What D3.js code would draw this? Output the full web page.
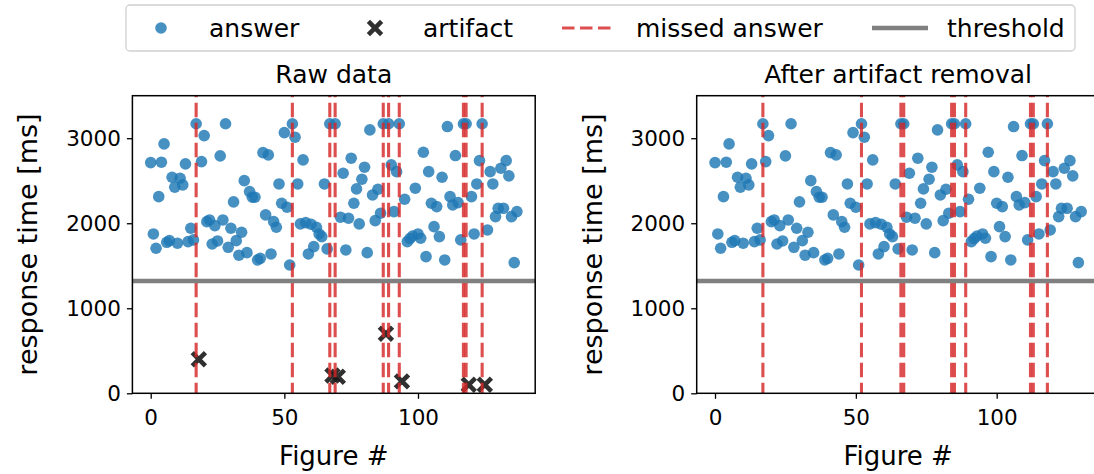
<!DOCTYPE html>
<html><head><meta charset="utf-8">
<script src="https://cdn.jsdelivr.net/npm/d3@7/dist/d3.min.js"></script>
<style>
body{margin:0;background:#fff}
svg{display:block}
text{font-family:"DejaVu Sans",sans-serif;fill:#000}
</style>
</head><body>
<svg id="chart" width="1094" height="474"></svg>
<script>
// ---------------- data ----------------
const lastFigure = 137;                       // figures 0..137 in the raw recording
const artifactFigure = [18, 68, 70, 88, 94, 119, 125];
const artifactMs     = [400, 210, 195, 700, 140, 100, 100];
const missedFigure   = [17, 53, 67, 69, 87, 89, 93, 117, 118, 124];
const thresholdMs = 1320;
// response times of the answers, in figure order (artifact figures skipped)
const answerMs = [
  2713,1874,1706,2313,2718,2933,1776,1795,2541,2424,1765,2529,2451,2698,1784,1941,1804,3170,
  2725,3031,2019,2039,1756,1972,1792,2792,2039,3170,1717,1941,2251,1795,1624,1894,2501,1654,
  2372,2306,2306,1568,1588,2831,2098,2804,1639,2019,1953,2462,2235,3066,2188,1509,3170,3012,
  2462,1992,2745,2007,1639,1988,1725,1953,1874,1843,2462,1698,3170,
  3170,
  2071,2588,1686,2059,2765,2235,2404,1992,2518,2659,1654,3098,2333,2031,2400,2118,3170,
  3170,2686,2137,2607,3170,
  2282,1784,1820,1850,2412,1874,1824,2835,1607,2607,2235,1960,2196,1843,2541,1568,3137,2313,
  2215,2796,2243,1804,3170,3170,
  2313,1874,2462,2737,3170,
  1921,2607,2462,2078,2176,2647,2176,2737,2557,2078,1537,2137
];
const xTicks = [0, 50, 100];
const yTicks = [0, 1000, 2000, 3000];
const titles = ["Raw data", "After artifact removal"];
const legendLabels = ["answer", "artifact", "missed answer", "threshold"];

// ---------------- derived ----------------
const answerFigure = d3.range(0, lastFigure + 1).filter(f => !artifactFigure.includes(f));
// after removal the answers are renumbered consecutively
const cleanIndex = new Map(answerFigure.map((f, i) => [f, i]));
const rawPanel = {
  title: titles[0],
  points: answerFigure.map((f, i) => ({x: f, y: answerMs[i]})),
  crosses: artifactFigure.map((f, i) => ({x: f, y: artifactMs[i]})),
  missed: missedFigure,
  xmax: lastFigure
};
const cleanPanel = {
  title: titles[1],
  points: answerMs.map((v, i) => ({x: i, y: v})),
  crosses: [],
  missed: missedFigure.map(f => cleanIndex.get(f)),
  xmax: answerMs.length - 1
};

// ---------------- colours / layout ----------------
const C = {answer:"#1f77b4", artifact:"#1a1a1a", missed:"#d62728", thr:"#808080"};
const yTop = 95.7, yBottom = 393.3;
const panelLeft = [132.4, 696.7], panelWidth = 402.8;
const svg = d3.select("#chart");
const y = d3.scaleLinear().domain([0, 3500]).range([yBottom, yTop]);

function crossPath(s){ return `M${-s},${-s}L${s},${s}M${-s},${s}L${s},${-s}`; }

function drawPanel(p, left, showYLabel){
  const m = 0.05 * p.xmax;
  const x = d3.scaleLinear().domain([-m, p.xmax + m]).range([left, left + panelWidth]);
  const g = svg.append("g");
  const clipId = "clip" + Math.round(left);
  g.append("clipPath").attr("id", clipId).append("rect")
    .attr("x", left).attr("y", yTop).attr("width", panelWidth).attr("height", yBottom - yTop);
  const plot = g.append("g").attr("clip-path", `url(#${clipId})`);

  plot.selectAll("circle").data(p.points).join("circle")
    .attr("cx", d => x(d.x)).attr("cy", d => y(d.y)).attr("r", 5.8)
    .attr("fill", C.answer).attr("fill-opacity", 0.82);

  plot.selectAll("path.art").data(p.crosses).join("path").attr("class","art")
    .attr("transform", d => `translate(${x(d.x)},${y(d.y)})`)
    .attr("d", crossPath(6.6)).attr("stroke", C.artifact).attr("stroke-width", 4.6)
    .attr("fill", "none").attr("opacity", 0.9);

  plot.selectAll("line.miss").data(p.missed).join("line").attr("class","miss")
    .attr("x1", d => x(d)).attr("x2", d => x(d)).attr("y1", yTop).attr("y2", yBottom)
    .attr("stroke", C.missed).attr("stroke-width", 3.1).attr("stroke-opacity", 0.82)
    .attr("stroke-dasharray", "14.5,5.5").attr("stroke-dashoffset", -7);

  plot.append("line").attr("x1", left).attr("x2", left + panelWidth)
    .attr("y1", y(thresholdMs)).attr("y2", y(thresholdMs))
    .attr("stroke", C.thr).attr("stroke-width", 4.5);

  // axes
  const xa = g.append("g").attr("transform", `translate(0,${yBottom})`)
    .call(d3.axisBottom(x).tickValues(xTicks).tickFormat(d3.format("d"))
      .tickSize(5.5).tickPadding(6).tickSizeOuter(0));
  const ya = g.append("g").attr("transform", `translate(${left},0)`)
    .call(d3.axisLeft(y).tickValues(yTicks).tickFormat(d3.format("d"))
      .tickSize(5.5).tickPadding(6).tickSizeOuter(0));
  [xa, ya].forEach(a => {
    a.select(".domain").remove();
    a.selectAll(".tick line").attr("stroke", "#000").attr("stroke-width", 1.3);
    a.selectAll(".tick text").attr("font-size", 21.5).attr("fill", "#000")
      .style("font-family", '"DejaVu Sans", sans-serif');
  });
  xa.selectAll(".tick text").attr("dy", "0.95em");

  g.append("rect").attr("x", left).attr("y", yTop).attr("width", panelWidth).attr("height", yBottom - yTop)
    .attr("fill", "none").attr("stroke", "#000").attr("stroke-width", 1.5);

  g.append("text").attr("x", left + panelWidth / 2).attr("y", 83).attr("text-anchor", "middle")
    .attr("font-size", 25).text(p.title);
  g.append("text").attr("x", left + panelWidth / 2).attr("y", 465).attr("text-anchor", "middle")
    .attr("font-size", 26).text("Figure #");
  if (showYLabel) {
    g.append("text").attr("transform", `translate(${left - 95},${(yTop + yBottom) / 2}) rotate(-90)`)
      .attr("text-anchor", "middle").attr("font-size", 27).text("response time [ms]");
  }
}
drawPanel(rawPanel, panelLeft[0], true);
drawPanel(cleanPanel, panelLeft[1], true);

// ---------------- legend ----------------
const lg = svg.append("g");
lg.append("rect").attr("x", 126).attr("y", 5).attr("width", 949).attr("height", 46).attr("rx", 4)
  .attr("fill", "#fff").attr("fill-opacity", 0.8).attr("stroke", "#d0d0d0").attr("stroke-width", 1.3);
const ly = 28;
const handleX = [136, 350, 562, 872];
const textX = [209, 423, 636, 947];
lg.append("circle").attr("cx", handleX[0] + 25).attr("cy", ly).attr("r", 5.8)
  .attr("fill", C.answer).attr("fill-opacity", 0.82);
lg.append("path").attr("transform", `translate(${handleX[1] + 25},${ly})`).attr("d", crossPath(6.6))
  .attr("stroke", C.artifact).attr("stroke-width", 4.6).attr("opacity", 0.9);
lg.append("line").attr("x1", handleX[2]).attr("x2", handleX[2] + 52).attr("y1", ly).attr("y2", ly)
  .attr("stroke", C.missed).attr("stroke-width", 3.1).attr("stroke-opacity", 0.82).attr("stroke-dasharray", "12.5,5.5");
lg.append("line").attr("x1", handleX[3]).attr("x2", handleX[3] + 56).attr("y1", ly).attr("y2", ly)
  .attr("stroke", C.thr).attr("stroke-width", 4.5);
legendLabels.forEach((t, i) => {
  lg.append("text").attr("x", textX[i]).attr("y", ly + 9).attr("font-size", 25).text(t);
});
</script>
</body></html>
